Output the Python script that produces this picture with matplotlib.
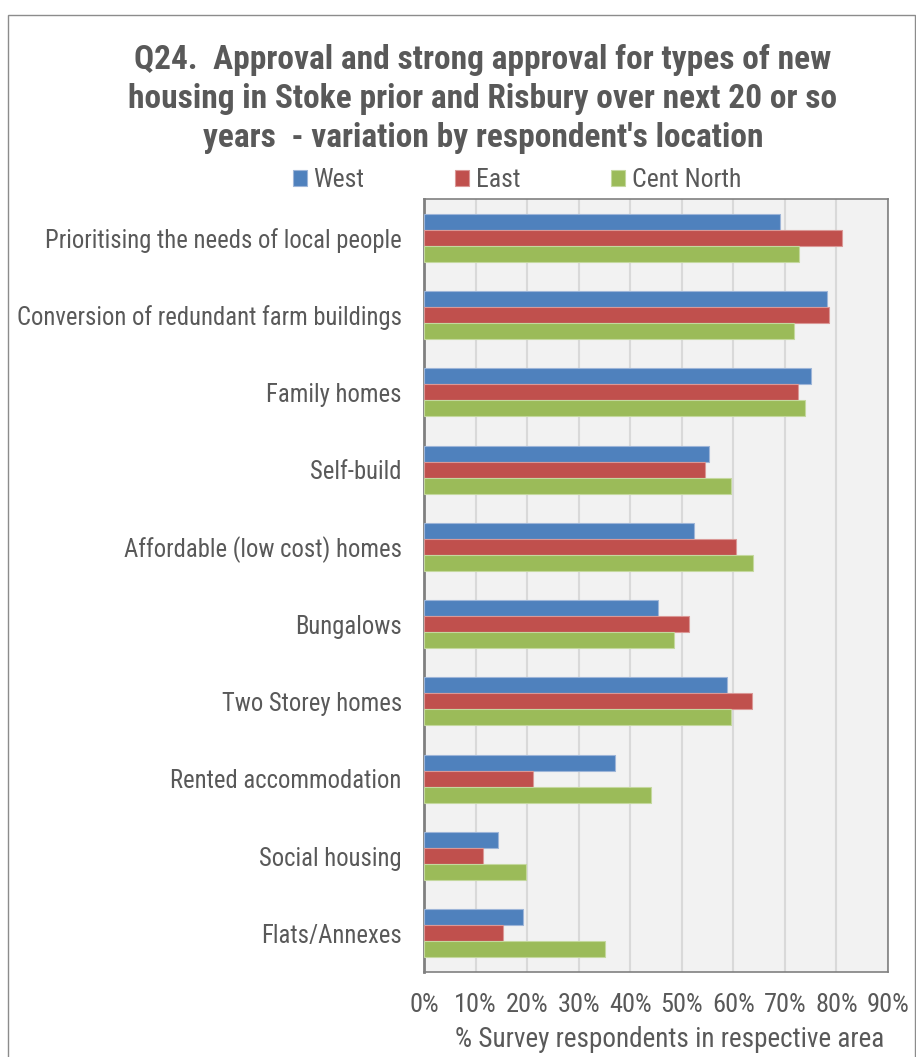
import numpy as np
import matplotlib
matplotlib.use('Agg')
import matplotlib.pyplot as plt
from matplotlib.patches import Rectangle

plt.rcParams['font.family'] = ['Roboto Condensed', 'Roboto', 'DejaVu Sans']

categories = [
    'Prioritising the needs of local people',
    'Conversion of redundant farm buildings',
    'Family homes',
    'Self-build',
    'Affordable (low cost) homes',
    'Bungalows',
    'Two Storey homes',
    'Rented accommodation',
    'Social housing',
    'Flats/Annexes',
]
west = [69.1, 78.1, 75.1, 55.3, 52.4, 45.4, 58.8, 37.1, 14.4, 19.2]
east = [81.0, 78.5, 72.6, 54.6, 60.5, 51.4, 63.7, 21.2, 11.5, 15.3]
cent_north = [72.8, 71.7, 73.9, 59.5, 63.9, 48.5, 59.5, 44.1, 19.8, 35.2]
series_names = ['West', 'East', 'Cent North']
colors = ['#4F81BD', '#C0504D', '#9BBB59']
edge_colors = ['#9DB5D8', '#DA9896', '#C4D89E']
xticks = np.arange(0, 100, 10)

text_color = '#595959'

fig = plt.figure(figsize=(9.16, 10.57), dpi=100)

# outer chart border
fig.patches.append(Rectangle((8 / 916, -0.01), 907 / 916, 1 - 15 / 1057 + 0.01,
                             transform=fig.transFigure, fill=False,
                             edgecolor='#8C8C8C', linewidth=1.0))

ax = fig.add_axes([424 / 916, 1 - 972 / 1057, 464 / 916, 773 / 1057])
ax.set_facecolor('#F2F2F2')

y = np.arange(len(categories))
h = 0.207
for i, (vals, name) in enumerate(zip([west, east, cent_north], series_names)):
    ax.barh(y + (i - 1) * h, vals, height=h, color=colors[i],
            edgecolor=edge_colors[i], linewidth=0.8, label=name, zorder=3)

ax.set_ylim(len(categories) - 0.5, -0.5)
ax.set_xlim(0, 90)
ax.set_xticks(xticks)
ax.set_xticklabels([f'{t}%' for t in xticks], fontsize=19, color=text_color)
ax.set_yticks(y)
ax.set_yticklabels(categories, fontsize=17.7, color=text_color)
ax.tick_params(axis='both', length=0)
ax.tick_params(axis='x', pad=15)
ax.tick_params(axis='y', pad=16)
ax.grid(axis='x', color='#D9D9D9', linewidth=1.5, zorder=0)

for side in ['left', 'right', 'top', 'bottom']:
    ax.spines[side].set_color('#808080')
    ax.spines[side].set_linewidth(1.2)
ax.spines['left'].set_linewidth(2)

ax.set_xlabel('% Survey respondents in respective area', fontsize=19.5,
              color=text_color)
ax.xaxis.set_label_coords(0.53, -0.07)

fig.text(483 / 916, 1 - 99 / 1057,
         "Q24.  Approval and strong approval for types of new\n"
         "housing in Stoke prior and Risbury over next 20 or so\n"
         "years  - variation by respondent's location",
         ha='center', va='center', fontsize=24, fontweight='bold',
         color=text_color, linespacing=1.28)

leg = fig.legend(loc='center', bbox_to_anchor=(517 / 916, 1 - 180 / 1057),
                 ncol=3, frameon=False, fontsize=18.5, handlelength=0.55,
                 handleheight=0.55, handletextpad=0.25, columnspacing=3.53,
                 borderpad=0)
for t in leg.get_texts():
    t.set_color(text_color)

fig.savefig('out.png', dpi=100)
